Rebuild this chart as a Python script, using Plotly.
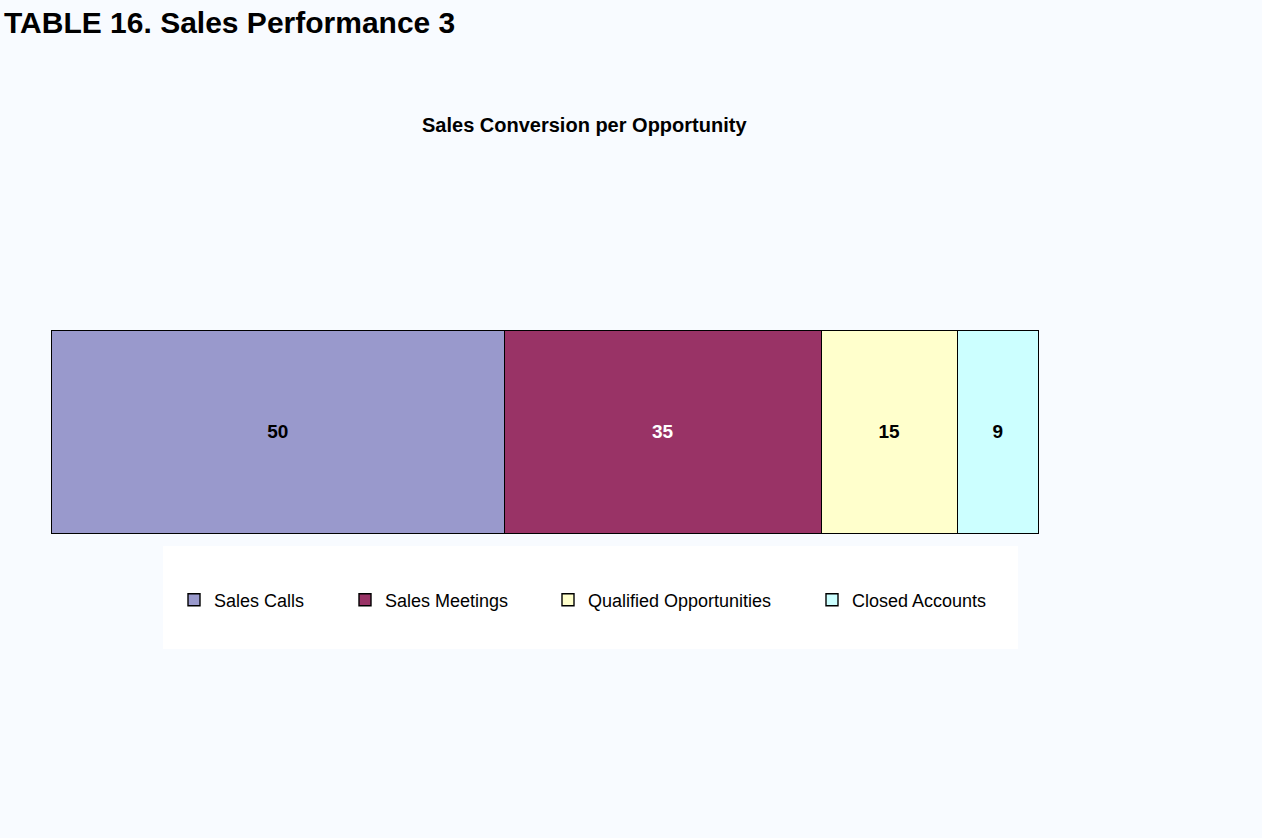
import plotly.graph_objects as go

# Sales funnel stages and their counts
stages = ["Sales Calls", "Sales Meetings", "Qualified Opportunities", "Closed Accounts"]
counts = [50, 35, 15, 9]
fill_colors = ["#9999CC", "#993366", "#FFFFCC", "#CCFFFF"]
label_colors = ["#000000", "#FFFFFF", "#000000", "#000000"]
row_label = ["Opportunity"]

W, H = 1262, 838
# pixel box of the stacked bar
BAR_L, BAR_R, BAR_T, BAR_B = 52, 1039, 331, 534
PAD = 3  # plot area slightly larger than the bar so its outline is not clipped
PLOT_L, PLOT_R, PLOT_T, PLOT_B = BAR_L - PAD, BAR_R + PAD, BAR_T - PAD, BAR_B + PAD
FONT = "Liberation Sans, Arial, sans-serif"

total = sum(counts)
x_per_px = total / (BAR_R - BAR_L)
y_per_px = 1.0 / (BAR_B - BAR_T)


def px_x(px):
    return (px - PLOT_L) / (PLOT_R - PLOT_L)


def px_y(py):
    return (PLOT_B - py) / (PLOT_B - PLOT_T)


fig = go.Figure()
legend_ids = ["legend", "legend2", "legend3", "legend4"]
for name, val, fc, tc, lg in zip(stages, counts, fill_colors, label_colors, legend_ids):
    fig.add_trace(go.Bar(
        y=row_label, x=[val], name=name, orientation="h",
        marker=dict(color=fc, line=dict(color="#000000", width=1.4)),
        text=[val], texttemplate="<b>%{text}</b>", textposition="inside",
        insidetextanchor="middle", textangle=0,
        textfont=dict(family=FONT, size=19, color=tc),
        width=1, legend=lg, hoverinfo="name+x",
    ))

# legend entries sit in a white band under the bar
text_starts = [214, 385, 588, 852]
legend_layout = {}
for lg, tx in zip(legend_ids, text_starts):
    legend_layout[lg] = dict(
        x=px_x(tx - 40), xanchor="left", y=px_y(600), yanchor="middle",
        bgcolor="rgba(0,0,0,0)", borderwidth=0,
        font=dict(family=FONT, size=18, color="#000000"),
        itemclick=False, itemdoubleclick=False,
    )

fig.update_layout(
    width=W, height=H,
    margin=dict(l=PLOT_L, r=W - PLOT_R, t=PLOT_T, b=H - PLOT_B),
    paper_bgcolor="#F8FBFF", plot_bgcolor="#F8FBFF",
    barmode="stack", bargap=0,
    xaxis=dict(range=[-PAD * x_per_px, total + PAD * x_per_px],
               visible=False, fixedrange=True),
    yaxis=dict(range=[-0.5 - PAD * y_per_px, 0.5 + PAD * y_per_px],
               visible=False, fixedrange=True),
    font=dict(family=FONT, color="#000000"),
    showlegend=True,
    shapes=[dict(
        type="rect", xref="paper", yref="paper", layer="below",
        x0=px_x(163), x1=px_x(1018), y0=px_y(649), y1=px_y(546),
        fillcolor="#FFFFFF", line=dict(width=0),
    )],
    annotations=[
        dict(text="<b>TABLE 16. Sales Performance 3</b>", xref="paper", yref="paper",
             x=px_x(2), y=px_y(22), xanchor="left", yanchor="middle",
             showarrow=False, font=dict(family=FONT, size=30, color="#000000")),
        dict(text="<b>Sales Conversion per Opportunity</b>", xref="paper", yref="paper",
             x=px_x(584), y=px_y(125), xanchor="center", yanchor="middle",
             showarrow=False, font=dict(family=FONT, size=20, color="#000000")),
    ],
    **legend_layout,
)

fig.write_html("out.html")
